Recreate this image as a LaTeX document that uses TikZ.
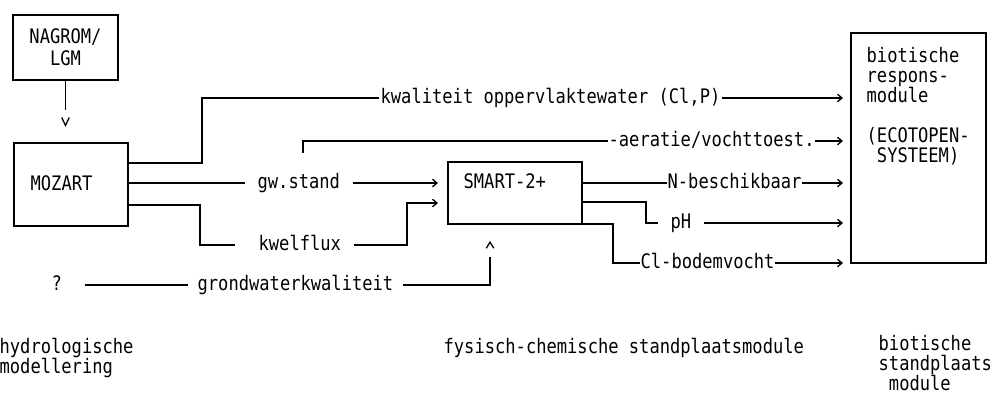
\documentclass[tikz,border=0pt]{standalone}
\usepackage{fontspec}
\newfontfamily\tw[FakeStretch=0.855]{DejaVu Sans Mono}
\usetikzlibrary{arrows.meta}
\begin{document}
\begin{tikzpicture}[x=1pt,y=-1pt,line width=1.3pt,
  txt/.style={font=\tw\fontsize{20}{20}\selectfont},
  rowtext/.style={txt,inner ysep=0pt,inner xsep=0pt,text height=10.9pt,text depth=0pt,anchor=west},
  frm/.style={draw,inner sep=0pt,outer sep=0pt},
  arr/.style={-{Straight Barb[length=4.5pt,width=7.5pt]}},
  varr/.style={-{Straight Barb[length=8pt,width=7.5pt]}},
  rarr/.style={{Straight Barb[length=6pt,width=7.5pt]}-}]
\useasboundingbox (0,0) rectangle (992,394);
% boxes
\node[frm,minimum width=105pt,minimum height=65pt,align=center,font=\tw\fontsize{20}{22}\selectfont] (nagrom) at (65.5,47.5) {NAGROM/\\LGM};
\node[frm,minimum width=114pt,minimum height=83pt] (mozart) at (71,184.5) {};
\node[txt,anchor=base west,inner sep=0pt] (mozlbl) at (30,190) {MOZART};
\node[frm,minimum width=134pt,minimum height=62pt] (smart) at (515,193) {};
\node[txt,anchor=base west,inner sep=0pt] (smartlbl) at (463,188) {SMART-2+};
\node[frm,minimum width=135pt,minimum height=230pt] (bio) at (918.5,148) {};
\node[txt,anchor=north west,inner sep=0pt,align=left] (biolbl) at (866,47) {biotische\\respons-\\module\\[20pt](ECOTOPEN-\\\phantom{x}SYSTEEM)};
% row texts
\node[rowtext,inner xsep=1pt] (kwal) at (379,98) {kwaliteit oppervlaktewater (Cl,P)};
\node[rowtext] (aer) at (608,141) {-aeratie/vochttoest.};
\node[rowtext,inner xsep=12pt] (gw) at (245,183) {gw.stand};
\node[rowtext,inner xsep=12pt] (kwel) at (246,245) {kwelflux};
\node[rowtext] (nb) at (667,183) {N-beschikbaar};
\node[rowtext,inner xsep=12pt] (ph) at (658,223) {pH};
\node[rowtext] (cl) at (640,263) {Cl-bodemvocht};
\node[rowtext,inner xsep=9pt] (gwk) at (188,285) {grondwaterkwaliteit};
\node[rowtext] (q) at (51,285) {?};
\coordinate (aerstart) at (303,153);
% bottom labels
\node[txt,anchor=north west,inner sep=0pt,align=left] (hyd) at (-1,338) {hydrologische\\modellering};
\node[txt,anchor=base west,inner sep=0pt] (fys) at (443,353) {fysisch-chemische standplaatsmodule};
\node[txt,anchor=north west,inner sep=0pt,align=left] (bsm) at (878,335) {biotische\\standplaats\\\phantom{x}module};
% connectors
\draw[varr,dash pattern=on 30pt off 200pt,shorten >=16pt] (nagrom.south) -- (nagrom.south |- mozart.north);
\draw (mozart.east |- 0,163) -- (202,163) |- (kwal.west);
\draw[arr,shorten >=8pt] (kwal.east) -- (kwal.east -| bio.west);
\draw (aerstart) |- (aer.west);
\draw[arr,shorten >=8pt] (aer.east) -- (aer.east -| bio.west);
\draw (mozart.east |- gw.west) -- (gw.west);
\draw[arr,shorten >=10pt] (gw.east) -- (gw.east -| smart.west);
\draw[shorten >=11pt] (mozart.east |- 0,205) -- (200,205) |- (kwel.west);
\draw[arr,shorten >=10pt] (kwel.east) -- (407,245) |- (smart.west |- 0,203);
\draw (smart.east |- nb.west) -- (nb.west);
\draw[arr,shorten >=8pt] (nb.east) -- (nb.east -| bio.west);
\draw (smart.east |- 0,202) -- (646,202) |- (ph.west);
\draw[arr,shorten >=8pt] (ph.east) -- (ph.east -| bio.west);
\draw (smart.south east) -- (613,224) |- (cl.west);
\draw[arr,shorten >=8pt] (cl.east) -- (cl.east -| bio.west);
\draw[shorten <=22pt] (q.east) -- (gwk.west);
\draw[rarr,shorten <=17pt,dash pattern=on 1000pt off 14pt,dash phase=1000pt] (smart.south -| 490,0) -- (490,285) -- (gwk.east);
\end{tikzpicture}
\end{document}
